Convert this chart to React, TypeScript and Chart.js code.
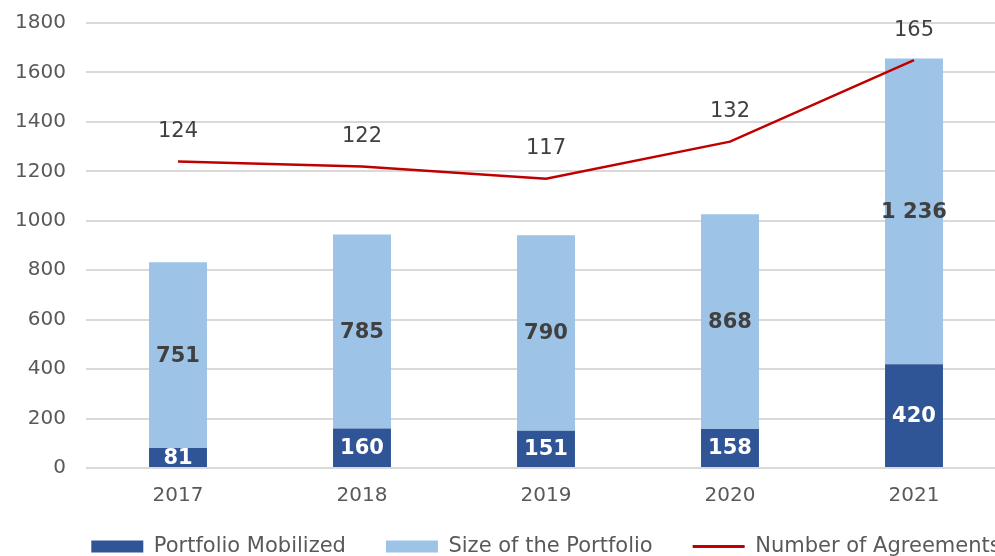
import React, { useEffect, useRef } from "react";
import { Chart, registerables } from "chart.js";

Chart.register(...registerables);

const categories = ["2017", "2018", "2019", "2020", "2021"];
const portfolioMobilized = [81, 160, 151, 158, 420];
const portfolioSize = [751, 785, 790, 868, 1236];
const numberOfAgreements = [124, 122, 117, 132, 165];

const FONT = "'DejaVu Sans', Verdana, sans-serif";
const DARK = "#2F5597";
const LIGHT = "#9DC3E6";
const RED = "#C00000";

const fmt = (v: number) => String(v).replace(/\B(?=(\d{3})+(?!\d))/g, " ");

const valueLabels = {
  id: "valueLabels",
  afterDatasetsDraw(chart: any) {
    const ctx = chart.ctx;
    ctx.save();
    ctx.textAlign = "center";
    ctx.textBaseline = "middle";
    chart.data.datasets.forEach((ds: any, i: number) => {
      const meta = chart.getDatasetMeta(i);
      meta.data.forEach((el: any, j: number) => {
        const v = ds.data[j] as number;
        const text = fmt(v);
        if (ds.type === "line") {
          ctx.font = `21px ${FONT}`;
          ctx.fillStyle = "#404040";
          ctx.fillText(text, el.x, el.y - 30);
        } else {
          const p = el.getProps(["x", "y", "base"], true);
          ctx.font = `bold 21px ${FONT}`;
          ctx.fillStyle = i === 0 ? "#FFFFFF" : "#404040";
          ctx.fillText(text, p.x, (p.y + p.base) / 2 + 1);
        }
      });
    });
    ctx.restore();
  },
};

// Pull the bottom legend a little closer to the axis labels.
const LEGEND_SHIFT = 10;
const legendShift = {
  id: "legendShift",
  afterLayout(chart: any) {
    const lg = chart.legend;
    if (lg) {
      lg.top -= LEGEND_SHIFT;
      lg.bottom -= LEGEND_SHIFT;
      if (lg.legendHitBoxes) lg.legendHitBoxes.forEach((h: any) => (h.top -= LEGEND_SHIFT));
    }
  },
};

export default function App() {
  const ref = useRef<HTMLCanvasElement>(null);
  useEffect(() => {
    if (!ref.current) return;
    Chart.defaults.font.family = FONT;
    const chart = new Chart(ref.current, {
      type: "bar",
      data: {
        labels: categories,
        datasets: [
          {
            type: "bar",
            label: "Portfolio Mobilized",
            data: portfolioMobilized,
            backgroundColor: DARK,
            borderWidth: 0,
            pointStyle: "rect",
            order: 1,
            yAxisID: "y",
          } as any,
          {
            type: "bar",
            label: "Size of the Portfolio",
            data: portfolioSize,
            backgroundColor: LIGHT,
            borderWidth: 0,
            pointStyle: "rect",
            order: 1,
            yAxisID: "y",
          } as any,
          {
            type: "line",
            label: "Number of Agreements",
            data: numberOfAgreements,
            borderColor: RED,
            backgroundColor: RED,
            borderWidth: 2.5,
            pointRadius: 0,
            pointBorderWidth: 3,
            pointStyle: "line",
            tension: 0,
            order: 0,
            yAxisID: "y1",
          } as any,
        ],
      },
      options: {
        responsive: false,
        animation: false,
        devicePixelRatio: 1,
        layout: { padding: { top: 23, bottom: 0, left: 0, right: 0 } },
        plugins: {
          tooltip: { enabled: false },
          legend: {
            position: "bottom",
            labels: {
              usePointStyle: true,
              pointStyleWidth: 52,
              boxHeight: 12,
              padding: 40,
              color: "#595959",
              font: { size: 21, family: FONT },
              sort: (a: any, b: any) => a.datasetIndex - b.datasetIndex,
            },
          },
        },
        datasets: {
          bar: { categoryPercentage: 1, barPercentage: 0.315 },
        },
        scales: {
          x: {
            stacked: true,
            grid: { display: false, drawTicks: false },
            border: { display: false },
            ticks: { color: "#595959", font: { size: 20 }, padding: 16 },
            afterFit: (s: any) => {
              s.height = 38;
            },
          },
          y: {
            stacked: true,
            min: 0,
            max: 1800,
            ticks: {
              stepSize: 200,
              color: "#595959",
              font: { size: 20 },
              padding: 0,
              callback: (v: any) => String(v),
            },
            grid: {
              color: "#D9D9D9",
              lineWidth: 2,
              drawTicks: true,
              tickLength: 20,
              tickColor: "rgba(0,0,0,0)",
            },
            border: { display: false },
            afterFit: (s: any) => {
              s.width = 86;
            },
          },
          y1: {
            position: "right",
            min: 0,
            max: 180,
            ticks: { display: false, padding: 0 },
            grid: { display: false, drawTicks: false },
            border: { display: false },
            afterFit: (s: any) => {
              s.width = 86;
            },
          },
        },
      },
      plugins: [valueLabels, legendShift],
    });
    return () => chart.destroy();
  }, []);

  return (
    <div
      style={{
        position: "absolute",
        left: 0,
        top: 0,
        width: 995,
        height: 556,
        overflow: "hidden",
        background: "#fff",
      }}
    >
      <canvas ref={ref} width={1092} height={577} style={{ display: "block" }} />
    </div>
  );
}
